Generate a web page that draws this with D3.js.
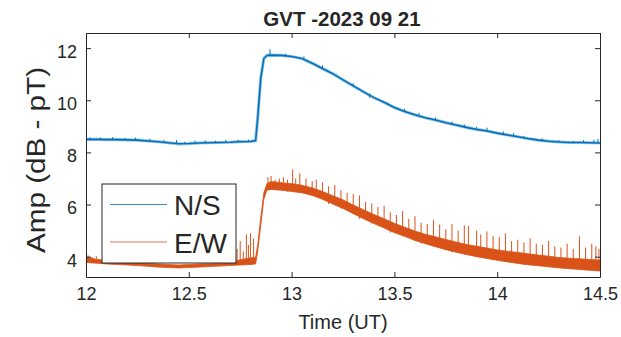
<!DOCTYPE html>
<html>
<head>
<meta charset="utf-8">
<script src="https://cdn.jsdelivr.net/npm/d3@7"></script>
<style>
  body { margin: 0; background: #fff; }
  text { font-family: "Liberation Sans", Arial, Helvetica, sans-serif; fill: #262626; }
</style>
</head>
<body>
<svg id="chart" width="621" height="337"></svg>
<script>
// sample times (UT hours), denser around the onset
const times = [12.00, 12.05, 12.10, 12.15, 12.20, 12.25, 12.30, 12.35, 12.40, 12.45, 12.50, 12.55,
  12.60, 12.65, 12.70, 12.75, 12.80, 12.825, 12.835, 12.85, 12.865, 12.88,
  12.90, 12.95, 13.00, 13.05, 13.10, 13.15, 13.20, 13.25, 13.30, 13.35, 13.40, 13.45, 13.50,
  13.55, 13.60, 13.65, 13.70, 13.75, 13.80, 13.85, 13.90, 13.95, 14.00, 14.05, 14.10, 14.15,
  14.20, 14.25, 14.30, 14.35, 14.40, 14.45, 14.50];

// N/S amplitude (dB - pT)
const nsBase = [8.50, 8.50, 8.49, 8.49, 8.48, 8.47, 8.44, 8.41, 8.37, 8.33, 8.34, 8.36,
  8.37, 8.38, 8.39, 8.41, 8.42, 8.45, 9.30, 10.85, 11.60, 11.72,
  11.73, 11.72, 11.68, 11.60, 11.42, 11.22, 11.02, 10.78, 10.55, 10.32, 10.10, 9.92, 9.72,
  9.57, 9.44, 9.33, 9.24, 9.14, 9.05, 8.96, 8.88, 8.82, 8.74, 8.67, 8.60, 8.53,
  8.47, 8.43, 8.40, 8.38, 8.38, 8.37, 8.36];

// E/W amplitude band: lower and upper edge of the noise
const ewLow = [3.78, 3.75, 3.72, 3.70, 3.68, 3.66, 3.63, 3.60, 3.58, 3.57, 3.58, 3.60,
  3.62, 3.64, 3.66, 3.68, 3.70, 3.72, 4.20, 5.20, 6.20, 6.55,
  6.58, 6.55, 6.50, 6.45, 6.35, 6.20, 6.02, 5.85, 5.65, 5.45, 5.27, 5.10, 4.92,
  4.78, 4.62, 4.50, 4.38, 4.27, 4.17, 4.08, 4.00, 3.93, 3.86, 3.80, 3.74, 3.69,
  3.65, 3.61, 3.57, 3.54, 3.51, 3.48, 3.45];
const ewHigh = [3.98, 3.90, 3.85, 3.82, 3.80, 3.78, 3.75, 3.72, 3.70, 3.68, 3.70, 3.72,
  3.73, 3.75, 3.78, 3.88, 3.95, 3.98, 4.45, 5.50, 6.45, 6.80,
  6.88, 6.84, 6.80, 6.74, 6.64, 6.50, 6.34, 6.18, 5.98, 5.80, 5.62, 5.45, 5.28,
  5.13, 4.98, 4.86, 4.76, 4.66, 4.56, 4.47, 4.40, 4.33, 4.26, 4.21, 4.16, 4.11,
  4.06, 4.02, 3.97, 3.94, 3.92, 3.89, 3.87];

// short bursts above the traces: [time, peak]
const nsSpikes = [[12.02, 8.58], [12.07, 8.57], [12.13, 8.59], [12.19, 8.56], [12.24, 8.57],
  [12.31, 8.52], [12.38, 8.47], [12.44, 8.47], [12.48, 8.41], [12.53, 8.45], [12.58, 8.46],
  [12.63, 8.45], [12.68, 8.48], [12.74, 8.48], [12.79, 8.49], [12.895, 11.96], [12.97, 11.78],
  [13.06, 11.68], [13.15, 11.33], [13.22, 11.03], [13.30, 10.64], [13.38, 10.25], [13.47, 9.94],
  [13.55, 9.68], [13.62, 9.52], [13.70, 9.34], [13.78, 9.18], [13.84, 9.07], [13.90, 8.98],
  [13.95, 8.95], [14.03, 8.80], [14.08, 8.74], [14.13, 8.62], [14.22, 8.53], [14.30, 8.47],
  [14.37, 8.44], [14.42, 8.47], [14.47, 8.48], [14.49, 8.52]];

const ewSpikes = [[12.01, 4.05], [12.03, 3.98], [12.05, 4.02], [12.735, 4.30], [12.75, 4.60],
  [12.765, 4.20], [12.78, 4.85], [12.79, 4.45], [12.80, 4.90], [12.815, 4.70], [12.885, 7.05],
  [12.90, 7.10], [12.92, 6.95], [12.94, 7.00], [12.96, 7.05], [12.98, 6.95], [13.005, 7.35],
  [13.02, 7.00], [13.04, 7.20], [13.07, 7.00], [13.10, 6.90], [13.12, 6.95], [13.15, 6.85],
  [13.18, 6.70], [13.21, 6.75], [13.24, 6.55], [13.27, 6.45], [13.30, 6.40], [13.33, 6.35],
  [13.36, 6.10], [13.39, 6.05], [13.42, 5.90], [13.45, 5.95], [13.48, 5.70], [13.51, 5.60],
  [13.54, 5.75], [13.57, 5.45], [13.60, 5.55], [13.63, 5.30], [13.66, 5.25], [13.69, 5.40],
  [13.72, 5.23], [13.75, 5.05], [13.78, 5.25], [13.81, 5.00], [13.84, 5.20], [13.86, 5.17],
  [13.90, 5.00], [13.92, 4.85], [13.95, 4.97], [13.98, 4.80], [14.01, 4.75], [14.04, 4.90],
  [14.07, 4.60], [14.10, 4.65], [14.13, 4.55], [14.16, 4.70], [14.19, 4.50], [14.22, 4.45],
  [14.25, 4.60], [14.28, 4.40], [14.31, 4.35], [14.34, 4.50], [14.37, 4.30], [14.40, 4.78],
  [14.43, 4.35], [14.46, 4.50], [14.48, 4.40], [14.495, 4.30]];

const xTicks = [12, 12.5, 13, 13.5, 14, 14.5];
const yTicks = [4, 6, 8, 10, 12];
const seriesNames = ['N/S', 'E/W'];
const colors = ['#0072BD', '#D95319'];

const margin = { top: 33, right: 21, bottom: 60, left: 86 };
const width = 621 - margin.left - margin.right;
const height = 337 - margin.top - margin.bottom;

const svg = d3.select('#chart');
const g = svg.append('g').attr('transform', `translate(${margin.left},${margin.top})`);

const x = d3.scaleLinear().domain([12, 14.5]).range([0, width]);
const y = d3.scaleLinear().domain([3.22, 12.58]).range([height, 0]);

g.append('clipPath').attr('id', 'clip')
  .append('rect').attr('width', width).attr('height', height);

const plot = g.append('g').attr('clip-path', 'url(#clip)');
const bisect = d3.bisector(d => d).center;

// E/W band
plot.append('path')
  .datum(times.map((t, i) => [t, ewLow[i], ewHigh[i]]))
  .attr('fill', colors[1])
  .attr('stroke', colors[1])
  .attr('stroke-width', 0.8)
  .attr('d', d3.area().x(d => x(d[0])).y0(d => y(d[1])).y1(d => y(d[2])));

plot.append('g')
  .attr('stroke', colors[1])
  .attr('stroke-width', 1)
  .selectAll('line')
  .data(ewSpikes)
  .join('line')
  .attr('x1', d => x(d[0])).attr('x2', d => x(d[0]))
  .attr('y1', d => y(ewLow[bisect(times, d[0])]))
  .attr('y2', d => y(d[1]));

// N/S trace
const nsLine = d3.line().x(d => x(d[0])).y(d => y(d[1]));
const nsData = times.map((t, i) => [t, nsBase[i]]);
plot.append('path')
  .datum(nsData)
  .attr('fill', 'none')
  .attr('stroke', '#9cc6e4')
  .attr('stroke-width', 3.2)
  .attr('d', nsLine);
plot.append('path')
  .datum(nsData)
  .attr('fill', 'none')
  .attr('stroke', colors[0])
  .attr('stroke-width', 1.6)
  .attr('d', nsLine);

plot.append('g')
  .attr('stroke', colors[0])
  .attr('stroke-width', 1)
  .selectAll('line')
  .data(nsSpikes)
  .join('line')
  .attr('x1', d => x(d[0])).attr('x2', d => x(d[0]))
  .attr('y1', d => y(nsBase[bisect(times, d[0])]))
  .attr('y2', d => y(d[1]));

// axes, ticks pointing inward on all four sides
const axisColor = '#262626';
const axes = [
  [d3.axisBottom(x).tickValues(xTicks).tickFormat(d3.format('')), `translate(0,${height})`, true],
  [d3.axisTop(x).tickValues(xTicks), 'translate(0,0)', false],
  [d3.axisLeft(y).tickValues(yTicks), 'translate(0,0)', true],
  [d3.axisRight(y).tickValues(yTicks), `translate(${width},0)`, false]
];
axes.forEach(([axis, tr, labels]) => {
  const a = g.append('g').attr('transform', tr)
    .call(axis.tickSizeInner(-5).tickSizeOuter(0).tickPadding(10));
  a.select('.domain').attr('stroke', axisColor).attr('stroke-width', 1);
  a.selectAll('.tick line').attr('stroke', axisColor);
  if (labels) {
    a.selectAll('.tick text').attr('font-size', 18).attr('fill', axisColor)
      .attr('font-family', '"Liberation Sans", Arial, sans-serif');
  } else {
    a.selectAll('.tick text').remove();
  }
});
g.selectAll('.tick text').filter(function () { return this.parentNode.parentNode.getAttribute('transform') === 'translate(0,0)'; })
  .attr('dy', '0.52em').attr('x', -9);

// title and axis labels
svg.append('text')
  .attr('x', margin.left + width / 2 - 1).attr('y', 26)
  .attr('text-anchor', 'middle').attr('font-size', 20.5).attr('font-weight', 'bold')
  .attr('fill', '#000')
  .text('GVT -2023 09 21');

svg.append('text')
  .attr('x', margin.left + width / 2).attr('y', 329)
  .attr('text-anchor', 'middle').attr('font-size', 20)
  .text('Time (UT)');

svg.append('text')
  .attr('transform', `translate(45,${160}) rotate(-90)`)
  .attr('text-anchor', 'middle').attr('font-size', 26)
  .attr('textLength', 186).attr('lengthAdjust', 'spacingAndGlyphs')
  .text('Amp (dB - pT)');

// legend
const legend = svg.append('g').attr('transform', 'translate(102,184)');
legend.append('rect')
  .attr('width', 134).attr('height', 79)
  .attr('fill', '#fff').attr('stroke', axisColor).attr('stroke-width', 1);
seriesNames.forEach((name, i) => {
  const ly = 20.5 + i * 37.5;
  legend.append('line')
    .attr('x1', 8).attr('x2', 65).attr('y1', ly).attr('y2', ly)
    .attr('stroke', colors[i]).attr('stroke-width', 0.8);
  legend.append('text')
    .attr('x', 72).attr('y', ly + 10.5)
    .attr('font-size', 28).attr('fill', '#000')
    .text(name);
});
</script>
</body>
</html>
